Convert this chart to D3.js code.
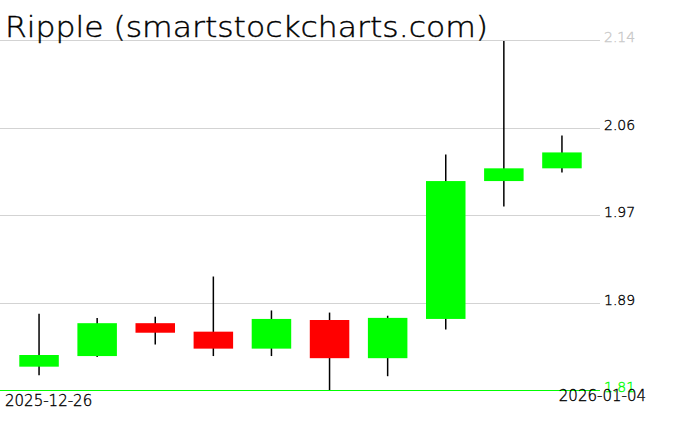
<!DOCTYPE html>
<html>
<head>
<meta charset="utf-8">
<script src="https://cdn.jsdelivr.net/npm/d3@7"></script>
<style>
  body { margin: 0; background: #fff; }
  svg text { font-family: "DejaVu Sans", sans-serif; font-weight: 200; }
</style>
</head>
<body>
<svg id="chart"></svg>
<script>
// daily candles
const dates = ["2025-12-26", "2025-12-27", "2025-12-28", "2025-12-29", "2025-12-30",
               "2025-12-31", "2026-01-01", "2026-01-02", "2026-01-03", "2026-01-04"];
const open  = [1.832, 1.842, 1.873, 1.865, 1.849, 1.876, 1.840, 1.877, 2.007, 2.019];
const high  = [1.882, 1.878, 1.879, 1.917, 1.885, 1.883, 1.880, 2.032, 2.139, 2.050];
const low   = [1.824, 1.841, 1.853, 1.842, 1.842, 1.810, 1.823, 1.867, 1.983, 2.015];
const close = [1.843, 1.873, 1.864, 1.849, 1.877, 1.840, 1.878, 2.007, 2.019, 2.034];

const yTicks = [2.14, 2.0575, 1.975, 1.8925, 1.81];
const yTickLabels = ["2.14", "2.06", "1.97", "1.89", "1.81"];
const title = "Ripple (smartstockcharts.com)";

const width = 676, height = 431;

const svg = d3.select("#chart")
    .attr("width", width)
    .attr("height", height);

const x = d3.scaleBand()
    .domain(dates)
    .range([10, 591])
    .paddingInner(0.32)
    .paddingOuter(0.16);

const y = d3.scaleLinear()
    .domain([1.81, 2.14])
    .range([390, 40]);

// grid lines + right labels
const grid = svg.append("g");
grid.selectAll("line")
    .data(yTicks)
    .join("line")
    .attr("x1", 0)
    .attr("x2", 600)
    .attr("y1", d => Math.round(y(d)) + 0.5)
    .attr("y2", d => Math.round(y(d)) + 0.5)
    .attr("stroke", (d, i) => i === yTicks.length - 1 ? "#00ff00" : "#d3d3d3")
    .attr("stroke-width", 1);

const tickColor = (d, i) => i === 0 ? "#c8c8c8" : (i === yTicks.length - 1 ? "#00ff00" : "#000");
grid.selectAll("text")
    .data(yTicks)
    .join("text")
    .attr("x", 604)
    .attr("y", d => y(d) + 2)
    .attr("font-size", 14)
    .attr("fill", tickColor)
    .attr("stroke", tickColor)
    .attr("stroke-width", 0.35)
    .text((d, i) => yTickLabels[i]);

// candles
const candles = svg.append("g")
    .selectAll("g")
    .data(dates.map((d, i) => ({date: d, o: open[i], h: high[i], l: low[i], c: close[i]})))
    .join("g");

candles.append("line")
    .attr("x1", d => x(d.date) + x.bandwidth() / 2)
    .attr("x2", d => x(d.date) + x.bandwidth() / 2)
    .attr("y1", d => y(d.h))
    .attr("y2", d => y(d.l))
    .attr("stroke", "#000")
    .attr("stroke-width", 1.5);

candles.append("rect")
    .attr("x", d => x(d.date))
    .attr("width", x.bandwidth())
    .attr("y", d => y(Math.max(d.o, d.c)))
    .attr("height", d => Math.max(1, Math.abs(y(d.o) - y(d.c))))
    .attr("fill", d => d.c >= d.o ? "#00ff00" : "#ff0000");

// date labels (first and last)
svg.append("text")
    .attr("x", 5)
    .attr("y", 406)
    .attr("font-size", 15)
    .attr("fill", "#000")
    .attr("stroke", "#000")
    .attr("stroke-width", 0.35)
    .text(dates[0]);

svg.append("text")
    .attr("x", 646)
    .attr("y", 401)
    .attr("font-size", 15)
    .attr("text-anchor", "end")
    .attr("fill", "#000")
    .attr("stroke", "#000")
    .attr("stroke-width", 0.35)
    .text(dates[dates.length - 1]);

// title
svg.append("text")
    .attr("x", 5)
    .attr("y", 37)
    .attr("font-size", 28)
    .attr("textLength", 483)
    .attr("lengthAdjust", "spacingAndGlyphs")
    .attr("fill", "#000")
    .attr("stroke", "#000")
    .attr("stroke-width", 0.4)
    .text(title);
</script>
</body>
</html>
